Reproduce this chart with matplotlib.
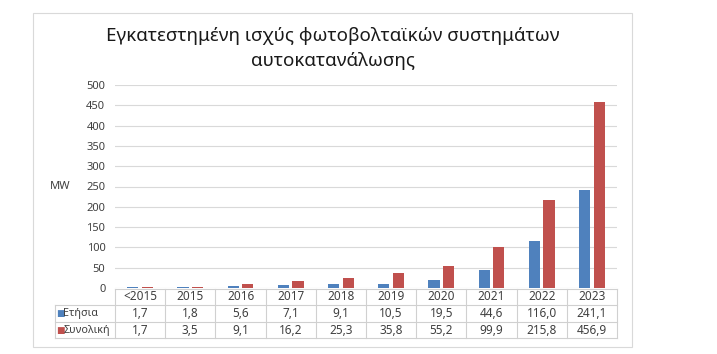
import matplotlib
matplotlib.use("Agg")
from matplotlib import pyplot as plt
from matplotlib.patches import Rectangle
from matplotlib.transforms import blended_transform_factory
import numpy as np

plt.rcParams['font.family'] = ['Noto Sans', 'DejaVu Sans']

# data
years = ['<2015', '2015', '2016', '2017', '2018', '2019', '2020', '2021', '2022', '2023']
annual = [1.7, 1.8, 5.6, 7.1, 9.1, 10.5, 19.5, 44.6, 116.0, 241.1]
total = [1.7, 3.5, 9.1, 16.2, 25.3, 35.8, 55.2, 99.9, 215.8, 456.9]
series_names = ['Ετήσια', 'Συνολική']
colors = ['#4F81BD', '#C0504D']
title = 'Εγκατεστημένη ισχύς φωτοβολταϊκών συστημάτων\nαυτοκατανάλωσης'

W, H = 717, 354
fig = plt.figure(figsize=(W / 100, H / 100), dpi=100)

# outer chart frame
fig.patches.append(Rectangle((33 / W, 1 - 347 / H), 599 / W, 334 / H,
                             transform=fig.transFigure, fill=False,
                             edgecolor='#D9D9D9', linewidth=0.8))

ax = fig.add_axes([115 / W, 1 - 288 / H, 502 / W, 203 / H])
x = np.arange(len(years))
w = 0.22
ax.bar(x - 0.145, annual, w, color=colors[0], zorder=3)
ax.bar(x + 0.145, total, w, color=colors[1], zorder=3)

ax.set_xlim(-0.5, len(years) - 0.5)
ax.set_ylim(0, 500)
ax.set_yticks(np.arange(0, 501, 50))
ax.set_xticks([])
ax.grid(axis='y', color='#D9D9D9', linewidth=0.8, zorder=0)
for s in ax.spines.values():
    s.set_visible(False)
ax.tick_params(axis='y', length=0, pad=7, labelsize=8, labelcolor='#404040')
ax.text(-0.11, 0.5, 'MW', transform=ax.transAxes, fontsize=8,
        color='#404040', ha='center', va='center')

fig.text(332.5 / W, 1 - 48.5 / H, title, ha='center', va='center',
         fontsize=13.5, color='#1a1a1a', linespacing=1.45)

# data table below the axis
tr = blended_transform_factory(ax.transData, fig.transFigure)
rows_px = [289, 305, 322, 338]
yf = [1 - r / H for r in rows_px]
left = -1.7
right = len(years) - 0.5
lc = '#D0D0D0'
lw = 0.8
ax.plot([-0.5, right], [yf[0], yf[0]], transform=tr, color=lc, lw=lw, clip_on=False)
for yy in yf[1:]:
    ax.plot([left, right], [yy, yy], transform=tr, color=lc, lw=lw, clip_on=False)
ax.plot([left, left], [yf[1], yf[3]], transform=tr, color=lc, lw=lw, clip_on=False)
for b in np.arange(-0.5, len(years), 1.0):
    ax.plot([b, b], [yf[0], yf[3]], transform=tr, color=lc, lw=lw, clip_on=False)

def cy(i):
    return (yf[i] + yf[i + 1]) / 2

tkw = dict(transform=tr, ha='center', va='center', fontsize=8.5, color='#404040')
for i, yr in enumerate(years):
    ax.text(i, cy(0), yr, **tkw)
    ax.text(i, cy(1), f'{annual[i]:.1f}'.replace('.', ','), **tkw)
    ax.text(i, cy(2), f'{total[i]:.1f}'.replace('.', ','), **tkw)

for r, (name, c) in enumerate(zip(series_names, colors)):
    ax.text(left + 0.03, cy(r + 1), '■', transform=tr, ha='left', va='center',
            fontsize=6.5, color=c, family='DejaVu Sans')
    ax.text(left + 0.17, cy(r + 1), name, transform=tr, ha='left', va='center',
            fontsize=7.8, color='#404040')

fig.savefig('out.png', dpi=100)
